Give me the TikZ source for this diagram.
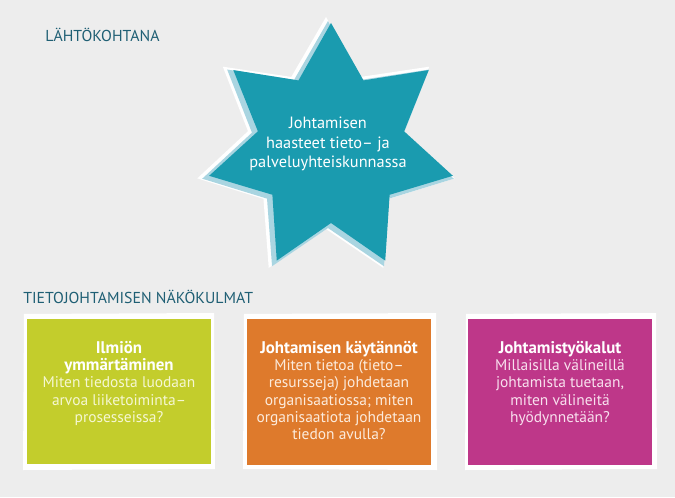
\documentclass[tikz,border=0pt]{standalone}
\usepackage{fontspec}
\setmainfont{PT Sans}
\usepackage{tikz}
\usetikzlibrary{calc, positioning}
\definecolor{bg}{HTML}{EDEDED}
\definecolor{titleblue}{HTML}{1F5F74}
\definecolor{starteal}{HTML}{1A9BAF}
\definecolor{starpale}{HTML}{A9D5E1}
\definecolor{boxgreen}{HTML}{C3CD2C}
\definecolor{boxorange}{HTML}{DE7A2C}
\definecolor{boxmagenta}{HTML}{BE3789}
\definecolor{greenpale}{HTML}{F5F7D2}
\definecolor{orangepale}{HTML}{FCEBDC}
\definecolor{magentapale}{HTML}{F8E0EE}

\begin{document}
\begin{tikzpicture}[x=0.02cm, y=0.02cm,
  heading/.style={anchor=base west, inner sep=0, text=titleblue, font=\fontsize{9}{11}\selectfont},
  startext/.style={inner sep=0, align=center, text=white, font=\fontsize{9.3}{11.3}\selectfont},
  boxtext/.style={anchor=north, inner sep=0, align=center, font=\fontsize{8.8}{9.8}\selectfont}]
\fill[bg] (0,0) rectangle (675,497);
\useasboundingbox (0,0) rectangle (675,497);
% otsikot
\path (45,455) node[heading] (lahto) {LÄHTÖKOHTANA};
\path (23,194) node[heading] (nakokulmat) {TIETOJOHTAMISEN NÄKÖKULMAT};
% tähti
\coordinate (c) at (331,349);
\fill[white] plot[domain=0:13, samples=14, variable=\k]
  ({326+ifthenelse(mod(\k,2)==0,132,80)*cos(90-\k*180/7)}, {348+ifthenelse(mod(\k,2)==0,132,80)*sin(90-\k*180/7)}) -- cycle;
\fill[starpale] plot[domain=0:13, samples=14, variable=\k]
  ({328+ifthenelse(mod(\k,2)==0,129,78)*cos(90-\k*180/7)}, {347+ifthenelse(mod(\k,2)==0,129,78)*sin(90-\k*180/7)}) -- cycle;
\fill[starteal] plot[domain=0:13, samples=14, variable=\k]
  ({331+ifthenelse(mod(\k,2)==0,125,75)*cos(90-\k*180/7)}, {349+ifthenelse(mod(\k,2)==0,125,75)*sin(90-\k*180/7)}) -- cycle;
\path (c) ++(-3,4) node[startext] (haasteet) {Johtamisen\\haasteet tieto– ja\\palveluyhteiskunnassa};
% laatikot
\fill[white] (23,27) -- (215,28) -- (214,184) -- (24,183) -- cycle;
\fill[boxgreen] (27,33) rectangle (211,178);
\fill[white] (243,28) -- (437,27) -- (436,184) -- (244,183) -- cycle;
\fill[boxorange] (247,32) rectangle (431,178);
\fill[white] (465,27) -- (657,28) -- (656,184) -- (466,183) -- cycle;
\fill[boxmagenta] (468,32) rectangle (652,178);
\path (119,156) node[boxtext, text=greenpale] (ilmio)
  {{\color{white}\fontsize{9.6}{9.8}\bfseries Ilmiön}\\{\color{white}\fontsize{9.6}{9.8}\bfseries ymmärtäminen}\\Miten tiedosta luodaan\\arvoa liiketoiminta–\\prosesseissa?};
\path (339,156) node[boxtext, text=orangepale] (kaytannot)
  {{\color{white}\fontsize{9.6}{9.8}\bfseries Johtamisen käytännöt}\\Miten tietoa (tieto–\\resursseja) johdetaan\\organisaatiossa; miten\\organisaatiota johdetaan\\tiedon avulla?};
\path (560,156) node[boxtext, text=magentapale] (tyokalut)
  {{\color{white}\fontsize{9.6}{9.8}\bfseries Johtamistyökalut}\\Millaisilla välineillä\\johtamista tuetaan,\\miten välineitä\\hyödynnetään?};
\end{tikzpicture}
\end{document}
